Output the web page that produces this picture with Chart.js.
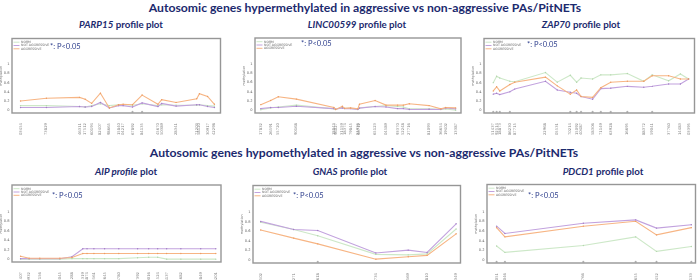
<!DOCTYPE html>
<html><head><meta charset="utf-8">
<script src="https://cdn.jsdelivr.net/npm/chart.js@4"></script>
<style>
html,body{margin:0;padding:0;background:#fff}
body{width:700px;height:280px;position:relative;overflow:hidden;font-family:Lato,"Open Sans",sans-serif}
.h{position:absolute;white-space:nowrap;font-weight:bold;color:#1c2a6e;line-height:1}
canvas{position:absolute}
</style></head><body>
<div class="h" id="hTop">Autosomic genes hypermethylated in aggressive vs non-aggressive PAs/PitNETs</div>
<div class="h" id="hBot">Autosomic genes hypomethylated in aggressive vs non-aggressive PAs/PitNETs</div>
<div class="h st" id="s1"><i>PARP15</i> profile plot</div>
<div class="h st" id="s2"><i>LINC00599</i> profile plot</div>
<div class="h st" id="s3"><i>ZAP70</i> profile plot</div>
<div class="h st" id="s4"><i>AIP profile</i> plot</div>
<div class="h st" id="s5"><i>GNAS</i> profile plot</div>
<div class="h st" id="s6"><i>PDCD1</i> profile plot</div>
<canvas id="c1"></canvas><canvas id="c2"></canvas><canvas id="c3"></canvas>
<canvas id="c4"></canvas><canvas id="c5"></canvas><canvas id="c6"></canvas>
<script>
// ---------------- DATA ----------------
const seriesNames = ["NORM", "NOT AGGRESSIVE", "AGGRESSIVE"];
const pvalNote = "*: P<0.05";
const yTickValues = [0, 0.2, 0.4, 0.6, 0.8, 1];

// PARP15 (relative CpG position along the gene, 0-100)
const parp15Pos = [4.1, 16.5, 32.4, 35.1, 38.2, 42.4, 46.7, 51.1, 53.3, 57.8, 62.4, 70.0, 71.8, 78.7, 88.6, 89.9, 93.8, 97.1];
const parp15Cpg = ["cg01203454","cg15473829","cg22946311","cg08817512","cg25760194","cg11382407","cg03398665","cg19915840","cg06204217","cg13567892","cg27084135","cg00945670","cg21150389","cg17728341","cg09871203","cg24458120","cg05530917","cg16642298"];
const parp15Norm    = [0.10, 0.10, 0.08, 0.07, 0.10, 0.14, 0.10, 0.12, 0.12, 0.11, 0.14, 0.10, 0.12, 0.11, 0.11, 0.12, 0.10, 0.09];
const parp15NotAggr = [0.06, 0.06, 0.08, 0.07, 0.08, 0.17, 0.05, 0.10, 0.10, 0.07, 0.16, 0.08, 0.15, 0.09, 0.12, 0.12, 0.08, 0.06];
const parp15Aggr    = [0.20, 0.26, 0.28, 0.24, 0.15, 0.37, 0.05, 0.12, 0.13, 0.12, 0.33, 0.13, 0.23, 0.17, 0.25, 0.36, 0.30, 0.13];
const parp15Sig = [9, 10];

// LINC00599
const lincPos = [2.8, 7.6, 11.3, 20.1, 38.3, 39.1, 42.4, 43.5, 46.4, 49.9, 50.7, 58.3, 63.6, 69.2, 72.0, 74.9, 84.5, 90.2, 92.6, 97.4];
const lincCpg = ["cg04417832","cg18826591","cg10355720","cg23490168","cg02718843","cg14496027","cg07631159","cg26018374","cg12279845","cg00581936","cg19340712","cg08865123","cg21704589","cg05193370","cg16952248","cg03027716","cg24681093","cg11836654","cg27519402","cg09413387"];
const lincNorm    = [0.01, 0.05, 0.07, 0.11, 0.03, 0.02, 0.06, 0.04, 0.04, 0.02, 0.05, 0.08, 0.10, 0.08, 0.07, 0.03, 0.03, 0.02, 0.03, 0.00];
const lincNotAggr = [0.035, 0.06, 0.06, 0.085, 0.035, 0.02, 0.05, 0.035, 0.035, 0.015, 0.045, 0.08, 0.07, 0.035, 0.035, 0.015, 0.02, 0.015, 0.05, 0.03];
const lincAggr    = [0.12, 0.21, 0.29, 0.24, 0.06, 0.015, 0.085, 0.04, 0.05, 0.03, 0.13, 0.21, 0.11, 0.11, 0.11, 0.14, 0.10, 0.03, 0.06, 0.05];
const lincSig = [];

// ZAP70
const zapPos = [4.4, 6.0, 7.5, 12.3, 14.6, 29.2, 34.8, 41.0, 44.0, 46.1, 51.6, 55.5, 60.2, 68.1, 75.9, 79.9, 87.7, 93.3, 97.2];
const zapCpg = ["cg07751437","cg20692514","cg13018873","cg01586230","cg24387715","cg09122968","cg17405531","cg03870214","cg26615092","cg11940487","cg05258306","cg22071149","cg14763928","cg00416695","cg19288372","cg06559041","cg25837760","cg12614483","cg08203395"];
const zapNorm    = [0.60, 0.74, 0.70, 0.63, 0.62, 0.82, 0.61, 0.76, 0.61, 0.70, 0.68, 0.77, 0.77, 0.80, 0.63, 0.77, 0.64, 0.79, 0.68];
const zapNotAggr = [0.35, 0.37, 0.34, 0.40, 0.46, 0.63, 0.44, 0.39, 0.37, 0.30, 0.24, 0.47, 0.48, 0.52, 0.50, 0.52, 0.57, 0.57, 0.68];
const zapAggr    = [0.42, 0.51, 0.42, 0.56, 0.61, 0.72, 0.53, 0.35, 0.44, 0.30, 0.28, 0.49, 0.61, 0.63, 0.63, 0.75, 0.75, 0.68, 0.68];
const zapSig = [0, 1, 2, 3, 7, 8, 9, 10, 11, 12, 13, 15];

// AIP
const aipPos = [4.1, 8.2, 13.3, 22.9, 28.7, 33.9, 35.9, 39.2, 44.3, 51.1, 60.1, 65.4, 69.7, 74.0, 80.8, 90.3, 97.5];
const aipCpg = ["cg02331407","cg15860932","cg08477156","cg21993045","cg04164288","cg26751319","cg10628874","cg18303561","cg07092645","cg23516780","cg01847392","cg14230016","cg19671524","cg05908137","cg27345682","cg12073849","cg09556201"];
const aipNorm    = [0.00, 0.00, 0.00, 0.00, 0.01, 0.01, 0.01, 0.01, 0.01, 0.01, 0.03, 0.04, 0.04, 0.00, 0.00, 0.00, 0.00];
const aipNotAggr = [0.01, 0.01, 0.01, 0.01, 0.05, 0.22, 0.22, 0.22, 0.22, 0.22, 0.22, 0.22, 0.22, 0.22, 0.22, 0.22, 0.22];
const aipAggr    = [0.06, 0.02, 0.02, 0.02, 0.035, 0.12, 0.12, 0.12, 0.12, 0.12, 0.12, 0.12, 0.12, 0.12, 0.12, 0.12, 0.12];
const aipSig = [];

// GNAS
const gnasPos = [3.7, 19.6, 31.2, 59.2, 74.8, 83.9, 97.9];
const gnasCpg = ["cg09885502","cg17434271","cg03962618","cg22250734","cg11093569","cg25672810","cg06718349"];
const gnasNorm    = [0.79, 0.64, 0.51, 0.12, 0.11, 0.13, 0.65];
const gnasNotAggr = [0.81, 0.64, 0.62, 0.15, 0.21, 0.16, 0.76];
const gnasAggr    = [0.63, 0.46, 0.34, 0.02, 0.07, 0.10, 0.55];
const gnasSig = [2];

// PDCD1
const pdcdPos = [4.6, 8.6, 46.2, 71.3, 81.3, 98.0];
const pdcdCpg = ["cg13271051","cg27051046","cg03889766","cg17322655","cg06301452","cg20805133"];
const pdcdNorm    = [0.29, 0.16, 0.30, 0.48, 0.18, 0.28];
const pdcdNotAggr = [0.70, 0.55, 0.76, 0.83, 0.66, 0.73];
const pdcdAggr    = [0.67, 0.48, 0.70, 0.80, 0.52, 0.67];
const pdcdSig = [0, 1, 2, 3, 4, 5];

// ---------------- LAYOUT / STYLE ----------------
const COLORS = ["#cde8c8", "#c2a2de", "#f7b584"];
const DOTS = ["#b3d6ad", "#a27ec4", "#eb9c63"];
const panels = [
  {id:"c1", f:{l:12,t:37,r:222,b:113}, pos:parp15Pos, cpg:parp15Cpg, s:[parp15Norm,parp15NotAggr,parp15Aggr], sig:parp15Sig, pv:{dx:38,dy:8}},
  {id:"c2", f:{l:255,t:37,r:462,b:113}, pos:lincPos, cpg:lincCpg, s:[lincNorm,lincNotAggr,lincAggr], sig:lincSig, pv:{dx:46,dy:6}},
  {id:"c3", f:{l:484,t:37,r:696,b:113}, pos:zapPos, cpg:zapCpg, s:[zapNorm,zapNotAggr,zapAggr], sig:zapSig, pv:{dx:43,dy:6}},
  {id:"c4", f:{l:12,t:184,r:222,b:262}, pos:aipPos, cpg:aipCpg, s:[aipNorm,aipNotAggr,aipAggr], sig:aipSig, pv:{dx:40,dy:11}},
  {id:"c5", f:{l:253,t:184,r:462,b:263}, pos:gnasPos, cpg:gnasCpg, s:[gnasNorm,gnasNotAggr,gnasAggr], sig:gnasSig, pv:{dx:40,dy:10}},
  {id:"c6", f:{l:487,t:183,r:697,b:263}, pos:pdcdPos, cpg:pdcdCpg, s:[pdcdNorm,pdcdNotAggr,pdcdAggr], sig:pdcdSig, pv:{dx:41,dy:11}}
];
const YW = 13, PT = 3, PR = 3, XH = 22;

const decor = {
  id: "decor",
  afterDraw(chart) {
    const ctx = chart.ctx, a = chart.chartArea, p = chart.options.plugins.decor;
    ctx.save();
    ctx.strokeStyle = "#969696"; ctx.lineWidth = 1.4;
    ctx.strokeRect(a.left, a.top, a.right - a.left, a.bottom - a.top);
    // legend
    ctx.font = "3.2px 'DejaVu Sans'";
    ctx.textBaseline = "middle"; ctx.textAlign = "left";
    seriesNames.forEach((n, i) => {
      const y = a.top + 3.7 + i * 3.3;
      ctx.strokeStyle = COLORS[i]; ctx.lineWidth = 1;
      ctx.beginPath(); ctx.moveTo(a.left + 1.5, y); ctx.lineTo(a.left + 7.5, y); ctx.stroke();
      ctx.fillStyle = "#666"; ctx.fillText(n, a.left + 9, y);
    });
    ctx.fillStyle = "#2c3d8c";
    ctx.font = "7.5px Lato, 'Open Sans', sans-serif";
    ctx.fillText(pvalNote, a.left + p.dx, a.top + p.dy);
    ctx.restore();
  }
};

panels.forEach(P => {
  const cv = document.getElementById(P.id);
  const W = (P.f.r - P.f.l) + YW + PR, H = (P.f.b - P.f.t) + PT + XH;
  cv.width = W; cv.height = H;
  cv.style.left = (P.f.l - YW) + "px"; cv.style.top = (P.f.t - PT) + "px";
  const datasets = P.s.map((vals, i) => ({
    label: seriesNames[i],
    data: P.pos.map((x, k) => ({x: x, y: vals[k]})),
    borderColor: COLORS[i], borderWidth: 1.1,
    pointRadius: 0.7, pointBorderWidth: 0,
    pointBackgroundColor: DOTS[i], tension: 0, order: 3 - i
  }));
  datasets.push({
    label: "sig", type: "scatter",
    data: P.sig.map(k => ({x: P.pos[k], y: -0.035})),
    pointStyle: "star", pointRadius: 1.1, borderWidth: 0.5,
    borderColor: "#a0a0a0", backgroundColor: "#a0a0a0"
  });
  new Chart(cv, {
    type: "line",
    data: {datasets},
    plugins: [decor],
    options: {
      responsive: false, animation: false, devicePixelRatio: 1,
      layout: {padding: {left: 0, top: PT, right: PR, bottom: 0}},
      plugins: {legend: {display: false}, tooltip: {enabled: false}, decor: P.pv},
      scales: {
        x: {
          type: "linear", min: 0, max: 100,
          grid: {display: false}, border: {display: false},
          afterBuildTicks: s => { s.ticks = P.pos.map(v => ({value: v})); },
          afterFit: s => { s.height = XH; },
          ticks: {autoSkip: false, minRotation: 90, maxRotation: 90, padding: 2,
                  font: {size: 3.8, family: "DejaVu Sans"}, color: "#888",
                  callback: (v, i) => P.cpg[i]}
        },
        y: {
          type: "linear", min: -0.06, max: 1.56,
          grid: {display: false, drawTicks: true, tickLength: 1.5, tickColor: "#999"}, border: {display: false},
          afterBuildTicks: s => { s.ticks = yTickValues.map(v => ({value: v})); },
          afterFit: s => { s.width = YW; },
          title: {display: true, text: "methylation", font: {size: 3.3, family: "DejaVu Sans"}, color: "#666", padding: 0},
          ticks: {font: {size: 3.6, family: "DejaVu Sans"}, color: "#666", padding: 1,
                  callback: v => (v === 0 || v === 1) ? String(v) : v.toFixed(1)}
        }
      }
    }
  });
});

// ---------------- TITLES ----------------
function place(el, size, cx, cy) {
  el.style.fontSize = size + "px";
  const r = el.getBoundingClientRect();
  el.style.left = (cx - r.width / 2) + "px";
  el.style.top = (cy - r.height / 2) + "px";
}
function fitSize(el, target) {
  el.style.fontSize = "20px";
  return 20 * target / el.getBoundingClientRect().width;
}
const hTop = document.getElementById("hTop"), hBot = document.getElementById("hBot");
const hs = fitSize(hTop, 433);
place(hTop, hs, 365, 8);
place(hBot, hs, 364, 153);
const ss = fitSize(document.getElementById("s1"), 84);
[["s1",121,25],["s2",357,25],["s3",581,25],["s4",126,172],["s5",350,172],["s6",603,172]]
  .forEach(([id, cx, cy]) => place(document.getElementById(id), ss, cx, cy));
</script>
</body></html>
